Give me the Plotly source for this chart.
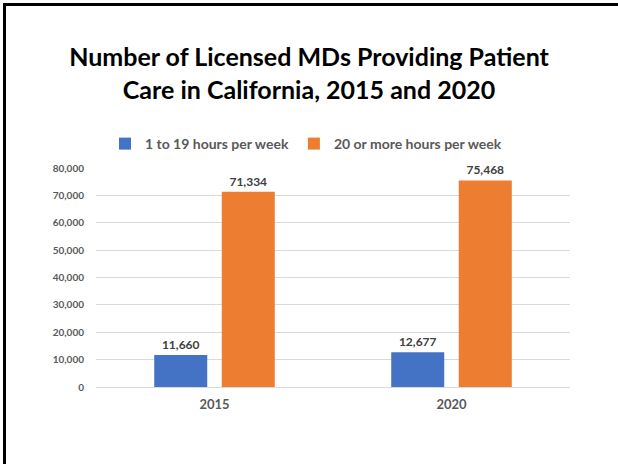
import plotly.graph_objects as go

years = ["2015", "2020"]
series_names = ["1 to 19 hours per week", "20 or more hours per week"]
low_hours = [11660, 12677]
high_hours = [71334, 75468]
colors = ["#4472C4", "#ED7D31"]
y_ticks = [0, 10000, 20000, 30000, 40000, 50000, 60000, 70000, 80000]

FONT = "Lato"
W, H = 618, 464
ML, MR, MT, MB = 96, 48, 168, 77

fig = go.Figure()
for name, vals, col in zip(series_names, [low_hours, high_hours], colors):
    fig.add_trace(go.Bar(
        x=years, y=vals, name=name,
        marker=dict(color=col, line=dict(width=0)),
        text=[f"{v:,}" for v in vals], textposition="outside",
        textfont=dict(family=FONT, size=12, color="#404040", weight="bold"),
        cliponaxis=False,
    ))

pw = W - ML - MR
ph = H - MT - MB
def px_x(p):
    return (p - ML) / pw
def px_y(p):
    return (H - MB - p) / ph

fig.update_layout(
    width=W, height=H,
    margin=dict(l=ML, r=MR, t=MT, b=MB),
    paper_bgcolor="white", plot_bgcolor="white",
    barmode="group", bargap=0.43, bargroupgap=0.215,
    title=dict(
        text="Number of Licensed MDs Providing Patient<br>Care in California, 2015 and 2020",
        x=0.5, xanchor="center", y=1 - 66 / H, yanchor="middle",
        font=dict(family=FONT, size=25, color="#000000", weight="bold"),
    ),
    legend=dict(
        orientation="h", x=px_x(306), xanchor="center", y=px_y(144), yanchor="middle",
        font=dict(family=FONT, size=14, color="#595959", weight="bold"),
        bgcolor="rgba(0,0,0,0)", itemwidth=30, traceorder="normal",
    ),
    xaxis=dict(
        showgrid=False, showline=False, ticks="",
        tickfont=dict(family=FONT, size=13, color="#595959", weight="bold"),
        ticklabelstandoff=8,
    ),
    yaxis=dict(
        range=[0, 80000], tickvals=y_ticks, tickformat=",",
        showgrid=True, gridcolor="#D9D9D9", gridwidth=1,
        zeroline=True, zerolinecolor="#D9D9D9", zerolinewidth=1,
        showline=False, ticks="",
        tickfont=dict(family=FONT, size=10, color="#595959", weight="bold"),
        ticklabelstandoff=11,
    ),
    showlegend=True,
    shapes=[
        dict(type="line", xref="paper", yref="paper",
             x0=px_x(3), x1=px_x(W), y0=px_y(4.5), y1=px_y(4.5),
             line=dict(color="black", width=3)),
        dict(type="line", xref="paper", yref="paper",
             x0=px_x(4.5), x1=px_x(4.5), y0=px_y(3), y1=px_y(H),
             line=dict(color="black", width=3)),
    ],
)

fig.write_html(
    "out.html",
    config={"displayModeBar": False},
    post_script=(
        "document.body.style.margin='0';"
        "document.body.style.overflow='hidden';"
        "document.documentElement.style.overflow='hidden';"
    ),
)
